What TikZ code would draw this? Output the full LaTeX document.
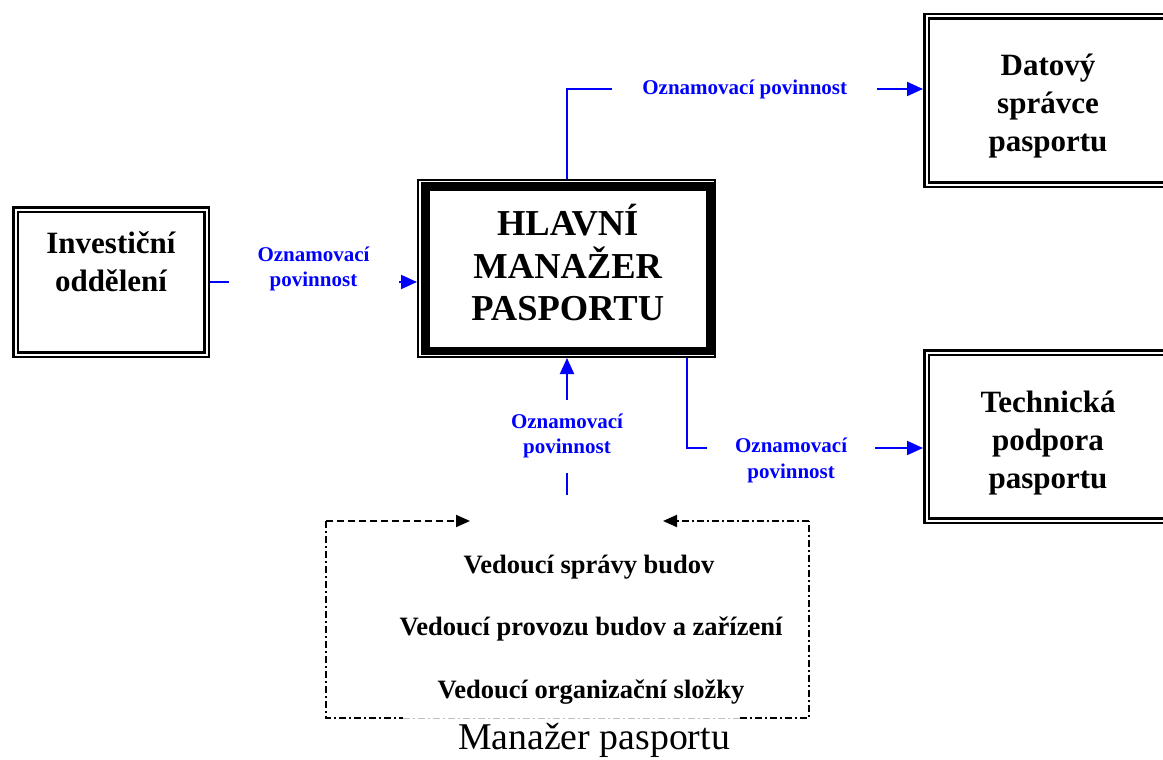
\documentclass[tikz,border=0pt]{standalone}
\usepackage{fontspec}
\setmainfont{Liberation Serif}
\usetikzlibrary{arrows.meta,calc}
\begin{document}
\begin{tikzpicture}[x=1pt,y=-1pt,
  dbox/.style={draw, line width=2.5pt, double, double distance=2pt, outer sep=3.5pt, inner sep=0pt},
  boxfont/.style={font=\fontsize{31}{38}\selectfont\bfseries, align=center},
  conn/.style={draw=blue, line width=2pt, -{Triangle[length=16pt,width=14pt]}},
  lbl/.style={fill=white, text=blue, font=\fontsize{21}{25.5}\selectfont\bfseries, align=center, inner sep=0pt},
  vfont/.style={font=\fontsize{26.5}{32}\selectfont\bfseries, inner sep=0pt},
  dashpat/.style={black, line width=2pt, dash pattern=on 7pt off 4pt},
  dotpat/.style={black, line width=2pt, dash pattern=on 7pt off 3pt on 2pt off 3pt},
  tipb/.style={-{Triangle[length=14pt,width=12pt]}}]
\useasboundingbox (0,0) rectangle (1163,760);
% boxes
\node[dbox, minimum width=191pt, minimum height=145pt,
      label={[boxfont, yshift=20pt]center:Investiční\\oddělení}] (inv) at (111,282) {};
\node[dbox, minimum width=243pt, minimum height=168pt,
      label={[boxfont, yshift=-6pt]center:Datový\\správce\\pasportu}] (dat) at (1048,100.5) {};
\node[dbox, minimum width=243pt, minimum height=168pt,
      label={[boxfont, yshift=-7pt]center:Technická\\podpora\\pasportu}] (tec) at (1048,436.5) {};
\node[draw, line width=2pt, minimum width=297pt, minimum height=177pt, outer sep=1pt] (hlo) at (566.5,268.5) {};
\node[draw, line width=8.5pt, minimum width=284.5pt, minimum height=164.5pt,
      label={[font=\fontsize{36.5}{42.5}\selectfont\bfseries, align=center, yshift=6pt]center:HLAVNÍ\\MANAŽER\\PASPORTU}] (hl) at (567.75,268.75) {};
% connectors
\draw[conn] (inv.east) -- node[lbl, minimum width=170pt, yshift=13pt]{Oznamovací\\povinnost} (inv.east -| hlo.west);
\coordinate (dtin) at ($(dat.west)+(0,-11.5)$);
\draw[conn] (hlo.north) |- node[lbl, pos=0.75, minimum width=265pt, minimum height=12pt]{Oznamovací povinnost} (dtin);
\coordinate (hlb) at ($(hlo.south)+(120.5,0)$);
\coordinate (tcin) at ($(tec.west)+(0,11.5)$);
\draw[conn] (hlb) |- node[lbl, pos=0.727, minimum width=168pt, yshift=-12.5pt, xshift=-3pt]{Oznamovací\\povinnost} (tcin);
\coordinate (bst) at (567,495);
\draw[conn] (bst) -- node[lbl, pos=0.43, minimum height=73pt, minimum width=120pt]{Oznamovací\\povinnost} (bst |- hlo.south);
% manager group
\node[minimum width=483pt, minimum height=197pt, inner sep=0pt, outer sep=0pt] (mgr) at (567.5,619.5) {};
\draw[dashpat, tipb] (mgr.north west) -- ($(mgr.north west)+(144,0)$);
\draw[dotpat, tipb] (mgr.north east) -- ($(mgr.north east)+(-146,0)$);
\draw[dotpat] (mgr.north west) -- (mgr.south west) -- ($(mgr.south west)+(77,0)$);
\draw[gray!50, line width=1pt, dash pattern=on 7pt off 3pt on 2pt off 3pt] ($(mgr.south west)+(77,0)$) -- ($(mgr.south east)+(-69,0)$);
\draw[dotpat] ($(mgr.south east)+(-69,0)$) -- (mgr.south east) -- (mgr.north east);
\node[vfont] (v1) at (589,567) {Vedoucí správy budov};
\node[vfont] (v2) at (591,629) {Vedoucí provozu budov a zařízení};
\node[vfont] (v3) at (591,692) {Vedoucí organizační složky};
\node[font=\fontsize{37.8}{44}\selectfont, inner sep=0pt] (mgrl) at (594,740) {Manažer pasportu};
\end{tikzpicture}
\end{document}
